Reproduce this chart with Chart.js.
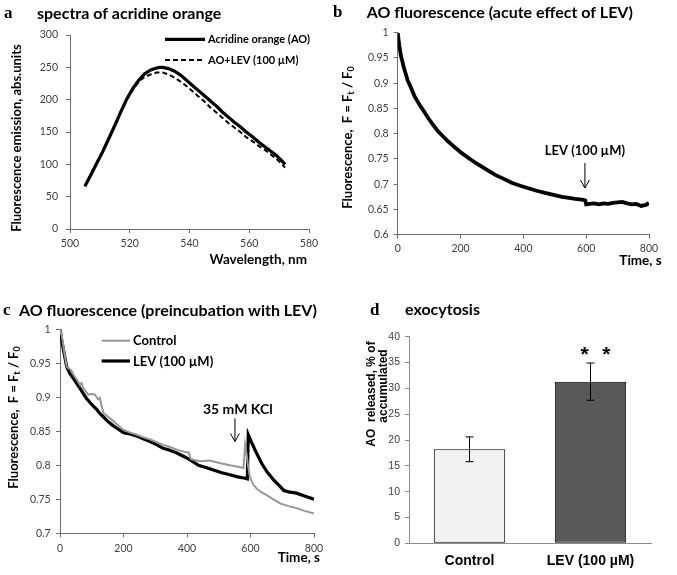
<!DOCTYPE html>
<html>
<head>
<meta charset="utf-8">
<script src="https://cdn.jsdelivr.net/npm/chart.js@4.4.1/dist/chart.umd.min.js"></script>
<style>
    html, body { margin: 0; padding: 0; background: #fff; }
    body { width: 677px; height: 575px; position: relative; overflow: hidden; }
    .panel { position: absolute; }
</style>
</head>
<body>
<div class="panel" style="left:0;top:0;width:330px;height:290px"><canvas id="chart-a"></canvas></div>
<div class="panel" style="left:330px;top:0;width:347px;height:290px"><canvas id="chart-b"></canvas></div>
<div class="panel" style="left:0;top:290px;width:330px;height:285px"><canvas id="chart-c"></canvas></div>
<div class="panel" style="left:330px;top:290px;width:347px;height:285px"><canvas id="chart-d"></canvas></div>
<script>
// a: emission spectra
const wavelengths   = [505, 507, 509, 511, 513, 515, 517, 519, 521, 523, 525, 527, 529, 530, 531, 533, 535, 537, 539, 541, 543, 545, 547, 549, 551, 553, 555, 557, 559, 561, 563, 565, 567, 569, 571, 572];
const emissionAO    = [66, 84, 102, 120, 140, 160, 181, 201, 217, 230, 240, 246, 249, 250, 250, 248, 244, 238, 230, 222, 214, 206, 198, 190, 181, 173, 165, 158, 150, 143, 135, 128, 121, 114, 105, 100];
const emissionAOLev = [66, 85, 103, 121, 141, 161, 181, 200, 215, 228, 235, 239, 242, 242, 242, 239, 234, 228, 221, 213, 205, 197, 188, 180, 172, 164, 157, 150, 142, 136, 129, 123, 116, 109, 100, 95];

// b: acute effect of LEV
const timeAcute  = [0, 5, 10, 20, 32, 43, 53, 64, 75, 86, 96, 112, 128, 144, 160, 180, 203, 230, 256, 283, 309, 336, 363, 390, 416, 442, 469, 496, 523, 545, 565, 580, 592, 597, 600, 610, 625, 640, 655, 670, 685, 700, 715, 730, 745, 760, 775, 790, 800];
const fluorAcute = [1.0, 0.975, 0.955, 0.93, 0.905, 0.89, 0.875, 0.863, 0.852, 0.842, 0.832, 0.818, 0.805, 0.795, 0.785, 0.774, 0.762, 0.75, 0.739, 0.729, 0.719, 0.711, 0.703, 0.697, 0.692, 0.687, 0.683, 0.679, 0.675, 0.673, 0.671, 0.670, 0.669, 0.668, 0.660, 0.661, 0.662, 0.660, 0.662, 0.661, 0.663, 0.664, 0.665, 0.662, 0.660, 0.661, 0.657, 0.659, 0.663];

// c: preincubation with LEV
const timeControl  = [0, 6, 14, 21, 35, 44, 53, 63, 68, 74, 89, 100, 110, 120, 126, 131, 137, 158, 180, 200, 221, 242, 263, 284, 305, 325, 346, 368, 390, 405, 412, 440, 472, 505, 535, 560, 578, 583, 588, 592, 598, 608, 619, 635, 651, 672, 693, 720, 745, 770, 800];
const fluorControl = [1.0, 0.99, 0.965, 0.945, 0.94, 0.932, 0.926, 0.918, 0.921, 0.913, 0.904, 0.905, 0.904, 0.897, 0.899, 0.887, 0.877, 0.869, 0.86, 0.852, 0.848, 0.845, 0.841, 0.838, 0.834, 0.83, 0.827, 0.823, 0.82, 0.819, 0.809, 0.806, 0.807, 0.803, 0.8, 0.798, 0.796, 0.83, 0.815, 0.8, 0.783, 0.772, 0.766, 0.76, 0.756, 0.75, 0.744, 0.74, 0.737, 0.733, 0.729];
const timeLev  = [0, 5, 10, 21, 31, 42, 52, 63, 74, 84, 95, 105, 116, 126, 137, 152, 168, 184, 200, 220, 242, 262, 284, 305, 325, 346, 368, 390, 410, 436, 457, 483, 510, 535, 560, 583, 590, 593, 605, 619, 635, 651, 672, 693, 705, 720, 745, 770, 800];
const fluorLev = [1.0, 0.985, 0.972, 0.945, 0.935, 0.928, 0.921, 0.913, 0.905, 0.898, 0.892, 0.887, 0.882, 0.876, 0.871, 0.864, 0.858, 0.853, 0.848, 0.846, 0.843, 0.839, 0.835, 0.83, 0.825, 0.822, 0.818, 0.813, 0.808, 0.8, 0.797, 0.793, 0.789, 0.786, 0.783, 0.781, 0.78, 0.845, 0.832, 0.818, 0.803, 0.791, 0.779, 0.769, 0.763, 0.761, 0.759, 0.755, 0.75];

// d: exocytosis
const barLabels = ['Control', 'LEV (100 µM)'];
const barValues = [18.2, 31.3];
const barErrors = [2.4, 3.6];

const LATO = 'Lato, "Open Sans", sans-serif';
const ARIAL = '"Liberation Sans", Arial, sans-serif';
const SERIF = '"Liberation Serif", "Times New Roman", serif';
const tickColor = '#404040';
const axisColor = '#6e6e6e';

const points = (xs, ys) => xs.map((x, i) => ({ x: x, y: ys[i] }));

function drawParts(ctx, parts, font, subFont) {
    const widths = parts.map(p => { ctx.font = p.sub ? subFont : font; return ctx.measureText(p.text).width; });
    let x = -widths.reduce((a, b) => a + b, 0) / 2;
    ctx.textAlign = 'left';
    parts.forEach((p, i) => {
        ctx.font = p.sub ? subFont : font;
        ctx.fillText(p.text, x, p.sub ? 3 : 0);
        x += widths[i];
    });
}

// titles, legends, arrows, error bars
const overlay = {
    id: 'overlay',
    afterDatasetsDraw(chart, args, opts) {
        const ctx = chart.ctx;
        const sy = chart.scales.y;
        if (opts.errors) {
            const meta = chart.getDatasetMeta(0);
            ctx.save();
            ctx.strokeStyle = '#000';
            ctx.lineWidth = 1;
            opts.errors.forEach((e, i) => {
                const bx = meta.data[i].x;
                const v = chart.data.datasets[0].data[i];
                const top = sy.getPixelForValue(v + e), bot = sy.getPixelForValue(v - e);
                ctx.beginPath();
                ctx.moveTo(bx, top); ctx.lineTo(bx, bot);
                ctx.moveTo(bx - 4, top); ctx.lineTo(bx + 4, top);
                ctx.moveTo(bx - 4, bot); ctx.lineTo(bx + 4, bot);
                ctx.stroke();
            });
            ctx.restore();
        }
    },
    afterDraw(chart, args, opts) {
        const ctx = chart.ctx;
        const sx = chart.scales.x, sy = chart.scales.y;
        (opts.texts || []).forEach(t => {
            ctx.save();
            ctx.font = t.font;
            ctx.fillStyle = t.color || '#000';
            ctx.textAlign = t.align || 'left';
            ctx.textBaseline = t.baseline || 'alphabetic';
            let x = t.data ? sx.getPixelForValue(t.x) : t.x;
            const y = t.data ? sy.getPixelForValue(t.y) : t.y;
            if (t.bar !== undefined) x = chart.getDatasetMeta(0).data[t.bar].x;
            ctx.translate(x + (t.dx || 0), y);
            if (t.rotate) ctx.rotate(t.rotate);
            if (t.parts) drawParts(ctx, t.parts, t.font, t.subFont);
            else ctx.fillText(t.text, 0, 0);
            ctx.restore();
        });
        (opts.arrows || []).forEach(a => {
            const x = sx.getPixelForValue(a.x);
            const y1 = sy.getPixelForValue(a.from), y2 = sy.getPixelForValue(a.to);
            ctx.save();
            ctx.strokeStyle = '#000';
            ctx.lineWidth = 1;
            ctx.beginPath();
            ctx.moveTo(x, y1); ctx.lineTo(x, y2);
            ctx.moveTo(x - 4.5, y2 - 8); ctx.lineTo(x, y2); ctx.lineTo(x + 4.5, y2 - 8);
            ctx.stroke();
            ctx.restore();
        });
        (opts.legend || []).forEach(l => {
            const ds = chart.data.datasets[l.index];
            ctx.save();
            ctx.strokeStyle = ds.borderColor;
            ctx.lineWidth = ds.borderWidth;
            ctx.setLineDash(ds.borderDash || []);
            ctx.beginPath();
            ctx.moveTo(l.x1, l.y); ctx.lineTo(l.x2, l.y);
            ctx.stroke();
            ctx.setLineDash([]);
            ctx.font = l.font;
            ctx.fillStyle = '#000';
            ctx.textBaseline = 'middle';
            ctx.fillText(ds.label, l.x2 + 3, l.y + 0.5);
            ctx.restore();
        });
    }
};

function linearAxis(min, max, step, tickPad, size, isX, fmt) {
    const fit = isX ? s => { s.height = size; } : s => { s.width = size; };
    return {
        type: 'linear', min: min, max: max,
        ticks: { stepSize: step, padding: tickPad, color: tickColor, font: { family: LATO, size: 10.5 }, callback: fmt || (v => String(Math.round(v * 100) / 100)) },
        grid: { drawOnChartArea: false, color: axisColor, tickLength: 4 },
        border: { color: axisColor },
        afterFit: fit
    };
}

const baseOptions = (padding) => ({
    responsive: true, maintainAspectRatio: false, animation: false,
    layout: { padding: padding },
    plugins: { legend: { display: false }, tooltip: { enabled: false } }
});

// Panel a
const optsA = baseOptions({ left: 0, right: 21, top: 35, bottom: 0 });
optsA.scales = { x: linearAxis(500, 580, 20, 4, 61, true), y: linearAxis(0, 300, 50, 8, 70, false) };
optsA.plugins.overlay = {
    texts: [
        { text: 'a', x: 4, y: 18, font: 'bold 17px ' + SERIF },
        { text: 'spectra of acridine orange', x: 37, y: 19, font: 'bold 16px ' + LATO },
        { text: 'Fluorescence emission, abs.units', x: 16.7, y: 138, rotate: -Math.PI / 2, align: 'center', baseline: 'middle', font: 'bold 13px ' + LATO },
        { text: 'Wavelength, nm', x: 307, y: 264, align: 'right', font: 'bold 13.5px ' + LATO }
    ],
    legend: [
        { index: 0, x1: 165, x2: 205, y: 39.3, font: 'bold 11px ' + LATO },
        { index: 1, x1: 165, x2: 205, y: 60, font: 'bold 11px ' + LATO }
    ]
};
new Chart(document.getElementById('chart-a'), {
    type: 'line',
    data: { datasets: [
        { label: 'Acridine orange (AO)', data: points(wavelengths, emissionAO), borderColor: '#000', borderWidth: 3.2, pointRadius: 0, tension: 0 },
        { label: 'AO+LEV (100 µM)', data: points(wavelengths, emissionAOLev), borderColor: '#000', borderWidth: 2, borderDash: [5, 3], pointRadius: 0, tension: 0 }
    ]},
    options: optsA,
    plugins: [overlay]
});

// Panel b
const fluorTitle = [{ text: 'Fluorescence,  F = F' }, { text: 't', sub: true }, { text: ' / F' }, { text: '0', sub: true }];
const optsB = baseOptions({ left: 0, right: 28, top: 32.7, bottom: 0 });
optsB.scales = { x: linearAxis(0, 800, 200, 4, 55.3, true), y: linearAxis(0.6, 1, 0.05, 5, 67.7, false) };
optsB.plugins.overlay = {
    texts: [
        { text: 'b', x: 3, y: 17, font: 'bold 17px ' + SERIF },
        { text: 'AO fluorescence (acute effect of LEV)', x: 36.7, y: 18, font: 'bold 16px ' + LATO },
        { parts: fluorTitle, x: 18.3, y: 137.5, rotate: -Math.PI / 2, baseline: 'middle', font: 'bold 13px ' + LATO, subFont: 'bold 9px ' + LATO },
        { text: 'Time, s', x: 331.7, y: 265, align: 'right', font: 'bold 13.5px ' + LATO },
        { text: 'LEV (100 µM)', data: true, x: 596, y: 0.758, align: 'center', font: 'bold 13px ' + LATO }
    ],
    arrows: [{ x: 596, from: 0.742, to: 0.6925 }]
};
new Chart(document.getElementById('chart-b'), {
    type: 'line',
    data: { datasets: [
        { label: 'AO', data: points(timeAcute, fluorAcute), borderColor: '#000', borderWidth: 3.8, pointRadius: 0, tension: 0 }
    ]},
    options: optsB,
    plugins: [overlay]
});

// Panel c
const optsC = baseOptions({ left: 0, right: 16, top: 39.3, bottom: 0 });
optsC.scales = { x: linearAxis(0, 800, 200, 4.7, 41.7, true), y: linearAxis(0.7, 1, 0.05, 5.3, 60, false) };
optsC.plugins.overlay = {
    texts: [
        { text: 'c', x: 3, y: 25, font: 'bold 17px ' + SERIF },
        { text: 'AO fluorescence (preincubation with LEV)', x: 19, y: 26, font: 'bold 16px ' + LATO },
        { parts: fluorTitle, x: 14, y: 127.5, rotate: -Math.PI / 2, baseline: 'middle', font: 'bold 13px ' + LATO, subFont: 'bold 9px ' + LATO },
        { text: 'Time, s', x: 320, y: 271.7, align: 'right', font: 'bold 13.5px ' + LATO },
        { text: '35 mM KCl', data: true, x: 560, y: 0.876, align: 'center', font: 'bold 14px ' + LATO }
    ],
    arrows: [{ x: 551, from: 0.869, to: 0.835 }],
    legend: [
        { index: 0, x1: 101.7, x2: 130, y: 50.7, font: 'bold 13px ' + LATO },
        { index: 1, x1: 101.7, x2: 130, y: 71, font: 'bold 13px ' + LATO }
    ]
};
new Chart(document.getElementById('chart-c'), {
    type: 'line',
    data: { datasets: [
        { label: 'Control', data: points(timeControl, fluorControl), borderColor: '#979797', borderWidth: 2, pointRadius: 0, tension: 0 },
        { label: 'LEV (100 µM)', data: points(timeLev, fluorLev), borderColor: '#000', borderWidth: 3.2, pointRadius: 0, tension: 0 }
    ]},
    options: optsC,
    plugins: [overlay]
});

// Panel d
const optsD = baseOptions({ left: 0, right: 26, top: 46.7, bottom: 0 });
optsD.scales = {
    x: {
        ticks: { padding: 9, color: '#000', font: { family: ARIAL, size: 14, weight: 'bold' } },
        grid: { display: false, drawTicks: false },
        border: { color: '#8c8c8c' },
        afterFit: s => { s.height = 31.7; }
    },
    y: {
        min: 0, max: 40,
        ticks: { stepSize: 5, padding: 5, color: tickColor, font: { family: ARIAL, size: 10.5 } },
        grid: { drawOnChartArea: false, color: '#8c8c8c', tickLength: 4 },
        border: { color: '#8c8c8c' },
        afterFit: s => { s.width = 79; }
    }
};
optsD.plugins.overlay = {
    errors: barErrors,
    texts: [
        { text: 'd', x: 40, y: 25, font: 'bold 17px ' + SERIF },
        { text: 'exocytosis', x: 75, y: 25, font: 'bold 16px ' + LATO },
        { text: 'AO  released, % of', x: 41.7, y: 104, rotate: -Math.PI / 2, align: 'center', baseline: 'middle', font: 'bold 12px ' + ARIAL },
        { text: 'accumulated', x: 53.3, y: 96, rotate: -Math.PI / 2, align: 'center', baseline: 'middle', font: 'bold 12px ' + ARIAL },
        { text: '*', bar: 1, dx: -5.8, y: 35.3, data: true, align: 'center', font: 'bold 21px ' + ARIAL },
        { text: '*', bar: 1, dx: 15.8, y: 35.3, data: true, align: 'center', font: 'bold 21px ' + ARIAL }
    ]
};
new Chart(document.getElementById('chart-d'), {
    type: 'bar',
    data: { labels: barLabels, datasets: [
        { data: barValues, backgroundColor: ['#f2f2f2', '#595959'], borderColor: '#000', borderWidth: 1, borderSkipped: false, barPercentage: 0.59, categoryPercentage: 1 }
    ]},
    options: optsD,
    plugins: [overlay]
});
</script>
</body>
</html>
